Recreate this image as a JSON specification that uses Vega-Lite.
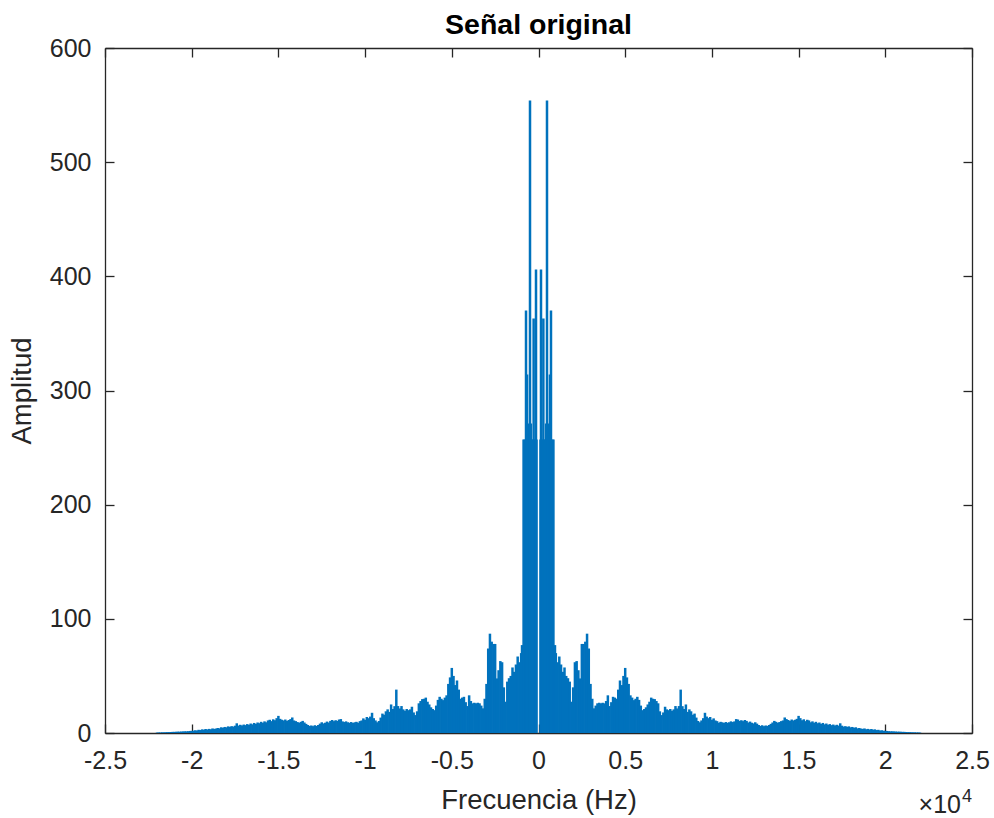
{
  "$schema": "https://vega.github.io/schema/vega-lite/v6.json",
  "width": 867,
  "height": 685,
  "autosize": "none",
  "padding": {"left": 105, "top": 48, "right": 22, "bottom": 85},
  "background": "#ffffff",
  "title": {"text": "Señal original", "font": "Liberation Sans", "fontSize": 28.5, "fontWeight": "bold", "color": "#000000", "anchor": "middle", "frame": "group", "baseline": "alphabetic", "offset": -26},
  "config": {
    "view": {"stroke": null},
    "axis": {"domainColor": "#262626", "domainWidth": 1.3, "tickColor": "#262626", "tickWidth": 1.3, "tickSize": -9, "labelFont": "Liberation Sans", "labelFontSize": 25, "labelColor": "#262626", "titleFont": "Liberation Sans", "titleFontSize": 27.5, "titleColor": "#262626", "titleFontWeight": "normal", "grid": false, "labelOverlap": false, "labelFlush": false}
  },
  "data": {"values": [
    {"f":-2.2,"a":0.4},{"f":-2.19,"a":0.5},{"f":-2.18,"a":0.5},{"f":-2.17,"a":0.6},{"f":-2.16,"a":0.6},{"f":-2.15,"a":0.7},{"f":-2.14,"a":0.8},{"f":-2.13,"a":0.8},{"f":-2.12,"a":0.9},{"f":-2.11,"a":1.0},
    {"f":-2.1,"a":1.0},{"f":-2.09,"a":1.1},{"f":-2.08,"a":1.2},{"f":-2.07,"a":1.2},{"f":-2.06,"a":1.3},{"f":-2.05,"a":1.4},{"f":-2.04,"a":1.5},{"f":-2.03,"a":1.5},{"f":-2.02,"a":1.6},{"f":-2.01,"a":1.8},
    {"f":-2.0,"a":1.9},{"f":-1.99,"a":2.0},{"f":-1.98,"a":2.4},{"f":-1.97,"a":2.2},{"f":-1.96,"a":2.8},{"f":-1.95,"a":2.6},{"f":-1.94,"a":3.2},{"f":-1.93,"a":2.9},{"f":-1.92,"a":3.5},{"f":-1.91,"a":3.1},
    {"f":-1.9,"a":3.6},{"f":-1.89,"a":3.3},{"f":-1.88,"a":4.0},{"f":-1.87,"a":3.6},{"f":-1.86,"a":3.9},{"f":-1.85,"a":4.4},{"f":-1.84,"a":4.1},{"f":-1.83,"a":5.0},{"f":-1.82,"a":4.6},{"f":-1.81,"a":5.3},
    {"f":-1.8,"a":5.0},{"f":-1.79,"a":5.8},{"f":-1.78,"a":5.4},{"f":-1.77,"a":6.0},{"f":-1.76,"a":5.6},{"f":-1.75,"a":6.4},{"f":-1.74,"a":8.5},{"f":-1.73,"a":6.5},{"f":-1.72,"a":7.2},{"f":-1.71,"a":6.6},
    {"f":-1.7,"a":7.4},{"f":-1.69,"a":6.9},{"f":-1.68,"a":7.8},{"f":-1.67,"a":7.2},{"f":-1.66,"a":8.3},{"f":-1.65,"a":7.6},{"f":-1.64,"a":8.8},{"f":-1.63,"a":8.0},{"f":-1.62,"a":9.2},{"f":-1.61,"a":8.6},
    {"f":-1.6,"a":9.8},{"f":-1.59,"a":9.0},{"f":-1.58,"a":10.2},{"f":-1.57,"a":9.4},{"f":-1.56,"a":11.0},{"f":-1.55,"a":11.6},{"f":-1.54,"a":10.4},{"f":-1.53,"a":12.0},{"f":-1.52,"a":11.2},{"f":-1.51,"a":13.0},
    {"f":-1.5,"a":15.0},{"f":-1.49,"a":12.4},{"f":-1.48,"a":11.6},{"f":-1.47,"a":11.0},{"f":-1.46,"a":11.8},{"f":-1.45,"a":10.6},{"f":-1.44,"a":11.4},{"f":-1.43,"a":12.2},{"f":-1.42,"a":13.6},{"f":-1.41,"a":11.0},
    {"f":-1.4,"a":10.4},{"f":-1.39,"a":9.6},{"f":-1.38,"a":9.0},{"f":-1.37,"a":9.8},{"f":-1.36,"a":10.6},{"f":-1.35,"a":9.2},{"f":-1.34,"a":8.0},{"f":-1.33,"a":7.0},{"f":-1.32,"a":6.2},{"f":-1.31,"a":6.6},
    {"f":-1.3,"a":6.0},{"f":-1.29,"a":6.8},{"f":-1.28,"a":6.2},{"f":-1.27,"a":7.0},{"f":-1.26,"a":8.2},{"f":-1.25,"a":9.4},{"f":-1.24,"a":8.4},{"f":-1.23,"a":9.0},{"f":-1.22,"a":10.0},{"f":-1.21,"a":9.2},
    {"f":-1.2,"a":10.6},{"f":-1.19,"a":11.4},{"f":-1.18,"a":10.4},{"f":-1.17,"a":11.2},{"f":-1.16,"a":10.6},{"f":-1.15,"a":11.8},{"f":-1.14,"a":12.2},{"f":-1.13,"a":10.2},{"f":-1.12,"a":9.6},{"f":-1.11,"a":10.2},
    {"f":-1.1,"a":9.4},{"f":-1.09,"a":9.0},{"f":-1.08,"a":9.6},{"f":-1.07,"a":8.8},{"f":-1.06,"a":9.4},{"f":-1.05,"a":9.8},{"f":-1.04,"a":9.0},{"f":-1.03,"a":10.4},{"f":-1.02,"a":11.0},{"f":-1.01,"a":12.8},
    {"f":-1.0,"a":11.6},{"f":-0.99,"a":14.0},{"f":-0.98,"a":13.0},{"f":-0.97,"a":14.4},{"f":-0.96,"a":17.7},{"f":-0.95,"a":13.0},{"f":-0.94,"a":11.0},{"f":-0.93,"a":9.4},{"f":-0.92,"a":10.5},{"f":-0.91,"a":13.5},
    {"f":-0.9,"a":17.0},{"f":-0.89,"a":16.0},{"f":-0.88,"a":19.0},{"f":-0.87,"a":20.7},{"f":-0.86,"a":18.5},{"f":-0.85,"a":25.0},{"f":-0.84,"a":21.0},{"f":-0.83,"a":23.5},{"f":-0.82,"a":38.0},{"f":-0.81,"a":23.6},
    {"f":-0.8,"a":21.5},{"f":-0.79,"a":23.6},{"f":-0.78,"a":20.7},{"f":-0.77,"a":19.5},{"f":-0.76,"a":21.0},{"f":-0.75,"a":20.0},{"f":-0.74,"a":20.7},{"f":-0.73,"a":23.0},{"f":-0.72,"a":18.0},{"f":-0.71,"a":15.7},
    {"f":-0.7,"a":19.0},{"f":-0.69,"a":26.0},{"f":-0.68,"a":28.0},{"f":-0.67,"a":29.7},{"f":-0.66,"a":30.0},{"f":-0.65,"a":31.0},{"f":-0.64,"a":27.4},{"f":-0.63,"a":25.0},{"f":-0.62,"a":22.5},{"f":-0.61,"a":21.0},
    {"f":-0.6,"a":20.0},{"f":-0.59,"a":24.0},{"f":-0.58,"a":29.0},{"f":-0.57,"a":31.7},{"f":-0.56,"a":30.0},{"f":-0.55,"a":28.8},{"f":-0.54,"a":31.0},{"f":-0.53,"a":33.0},{"f":-0.52,"a":43.0},{"f":-0.51,"a":48.7},
    {"f":-0.5,"a":57.0},{"f":-0.49,"a":50.0},{"f":-0.48,"a":42.0},{"f":-0.47,"a":46.0},{"f":-0.46,"a":38.0},{"f":-0.45,"a":30.0},{"f":-0.44,"a":31.0},{"f":-0.43,"a":31.7},{"f":-0.42,"a":27.0},{"f":-0.41,"a":23.6},
    {"f":-0.4,"a":33.0},{"f":-0.39,"a":28.0},{"f":-0.38,"a":26.0},{"f":-0.37,"a":26.5},{"f":-0.36,"a":26.0},{"f":-0.35,"a":26.5},{"f":-0.34,"a":26.0},{"f":-0.33,"a":24.0},{"f":-0.32,"a":21.6},{"f":-0.31,"a":30.0},
    {"f":-0.3,"a":43.0},{"f":-0.29,"a":74.0},{"f":-0.28,"a":87.0},{"f":-0.27,"a":80.0},{"f":-0.26,"a":78.0},{"f":-0.25,"a":78.0},{"f":-0.24,"a":47.8},{"f":-0.23,"a":55.0},{"f":-0.22,"a":63.0},{"f":-0.21,"a":62.0},
    {"f":-0.2,"a":40.0},{"f":-0.19,"a":27.4},{"f":-0.18,"a":45.0},{"f":-0.17,"a":48.0},{"f":-0.16,"a":50.0},{"f":-0.15,"a":57.4},{"f":-0.14,"a":53.6},{"f":-0.13,"a":60.0},{"f":-0.12,"a":67.0},{"f":-0.11,"a":62.0},
    {"f":-0.1,"a":70.0},{"f":-0.095,"a":77.0},{"f":-0.086,"a":257},{"f":-0.08,"a":257},{"f":-0.072,"a":370},{"f":-0.066,"a":314},{"f":-0.06,"a":271},{"f":-0.055,"a":257},{"f":-0.049,"a":554},{"f":-0.044,"a":271},
    {"f":-0.038,"a":257},{"f":-0.033,"a":257},{"f":-0.028,"a":363},{"f":-0.022,"a":257},{"f":-0.018,"a":257},{"f":-0.0144,"a":406},{"f":-0.0115,"a":257},
    {"f":0.0115,"a":257},{"f":0.0144,"a":406},{"f":0.018,"a":257},{"f":0.022,"a":257},{"f":0.028,"a":363},{"f":0.033,"a":257},{"f":0.038,"a":257},
    {"f":0.044,"a":271},{"f":0.049,"a":554},{"f":0.055,"a":257},{"f":0.06,"a":271},{"f":0.066,"a":314},{"f":0.072,"a":370},{"f":0.08,"a":257},{"f":0.086,"a":257},{"f":0.095,"a":77.0},{"f":0.1,"a":70.0},
    {"f":0.11,"a":62.0},{"f":0.12,"a":67.0},{"f":0.13,"a":60.0},{"f":0.14,"a":53.6},{"f":0.15,"a":57.4},{"f":0.16,"a":50.0},{"f":0.17,"a":48.0},{"f":0.18,"a":45.0},{"f":0.19,"a":27.4},{"f":0.2,"a":40.0},
    {"f":0.21,"a":62.0},{"f":0.22,"a":63.0},{"f":0.23,"a":55.0},{"f":0.24,"a":47.8},{"f":0.25,"a":78.0},{"f":0.26,"a":78.0},{"f":0.27,"a":80.0},{"f":0.28,"a":87.0},{"f":0.29,"a":74.0},{"f":0.3,"a":43.0},
    {"f":0.31,"a":30.0},{"f":0.32,"a":21.6},{"f":0.33,"a":24.0},{"f":0.34,"a":26.0},{"f":0.35,"a":26.5},{"f":0.36,"a":26.0},{"f":0.37,"a":26.5},{"f":0.38,"a":26.0},{"f":0.39,"a":28.0},{"f":0.4,"a":33.0},
    {"f":0.41,"a":23.6},{"f":0.42,"a":27.0},{"f":0.43,"a":31.7},{"f":0.44,"a":31.0},{"f":0.45,"a":30.0},{"f":0.46,"a":38.0},{"f":0.47,"a":46.0},{"f":0.48,"a":42.0},{"f":0.49,"a":50.0},{"f":0.5,"a":57.0},
    {"f":0.51,"a":48.7},{"f":0.52,"a":43.0},{"f":0.53,"a":33.0},{"f":0.54,"a":31.0},{"f":0.55,"a":28.8},{"f":0.56,"a":30.0},{"f":0.57,"a":31.7},{"f":0.58,"a":29.0},{"f":0.59,"a":24.0},{"f":0.6,"a":20.0},
    {"f":0.61,"a":21.0},{"f":0.62,"a":22.5},{"f":0.63,"a":25.0},{"f":0.64,"a":27.4},{"f":0.65,"a":31.0},{"f":0.66,"a":30.0},{"f":0.67,"a":29.7},{"f":0.68,"a":28.0},{"f":0.69,"a":26.0},{"f":0.7,"a":19.0},
    {"f":0.71,"a":15.7},{"f":0.72,"a":18.0},{"f":0.73,"a":23.0},{"f":0.74,"a":20.7},{"f":0.75,"a":20.0},{"f":0.76,"a":21.0},{"f":0.77,"a":19.5},{"f":0.78,"a":20.7},{"f":0.79,"a":23.6},{"f":0.8,"a":21.5},
    {"f":0.81,"a":23.6},{"f":0.82,"a":38.0},{"f":0.83,"a":23.5},{"f":0.84,"a":21.0},{"f":0.85,"a":25.0},{"f":0.86,"a":18.5},{"f":0.87,"a":20.7},{"f":0.88,"a":19.0},{"f":0.89,"a":16.0},{"f":0.9,"a":17.0},
    {"f":0.91,"a":13.5},{"f":0.92,"a":10.5},{"f":0.93,"a":9.4},{"f":0.94,"a":11.0},{"f":0.95,"a":13.0},{"f":0.96,"a":17.7},{"f":0.97,"a":14.4},{"f":0.98,"a":13.0},{"f":0.99,"a":14.0},{"f":1.0,"a":11.6},
    {"f":1.01,"a":12.8},{"f":1.02,"a":11.0},{"f":1.03,"a":10.4},{"f":1.04,"a":9.0},{"f":1.05,"a":9.8},{"f":1.06,"a":9.4},{"f":1.07,"a":8.8},{"f":1.08,"a":9.6},{"f":1.09,"a":9.0},{"f":1.1,"a":9.4},
    {"f":1.11,"a":10.2},{"f":1.12,"a":9.6},{"f":1.13,"a":10.2},{"f":1.14,"a":12.2},{"f":1.15,"a":11.8},{"f":1.16,"a":10.6},{"f":1.17,"a":11.2},{"f":1.18,"a":10.4},{"f":1.19,"a":11.4},{"f":1.2,"a":10.6},
    {"f":1.21,"a":9.2},{"f":1.22,"a":10.0},{"f":1.23,"a":9.0},{"f":1.24,"a":8.4},{"f":1.25,"a":9.4},{"f":1.26,"a":8.2},{"f":1.27,"a":7.0},{"f":1.28,"a":6.2},{"f":1.29,"a":6.8},{"f":1.3,"a":6.0},
    {"f":1.31,"a":6.6},{"f":1.32,"a":6.2},{"f":1.33,"a":7.0},{"f":1.34,"a":8.0},{"f":1.35,"a":9.2},{"f":1.36,"a":10.6},{"f":1.37,"a":9.8},{"f":1.38,"a":9.0},{"f":1.39,"a":9.6},{"f":1.4,"a":10.4},
    {"f":1.41,"a":11.0},{"f":1.42,"a":13.6},{"f":1.43,"a":12.2},{"f":1.44,"a":11.4},{"f":1.45,"a":10.6},{"f":1.46,"a":11.8},{"f":1.47,"a":11.0},{"f":1.48,"a":11.6},{"f":1.49,"a":12.4},{"f":1.5,"a":15.0},
    {"f":1.51,"a":13.0},{"f":1.52,"a":11.2},{"f":1.53,"a":12.0},{"f":1.54,"a":10.4},{"f":1.55,"a":11.6},{"f":1.56,"a":11.0},{"f":1.57,"a":9.4},{"f":1.58,"a":10.2},{"f":1.59,"a":9.0},{"f":1.6,"a":9.8},
    {"f":1.61,"a":8.6},{"f":1.62,"a":9.2},{"f":1.63,"a":8.0},{"f":1.64,"a":8.8},{"f":1.65,"a":7.6},{"f":1.66,"a":8.3},{"f":1.67,"a":7.2},{"f":1.68,"a":7.8},{"f":1.69,"a":6.9},{"f":1.7,"a":7.4},
    {"f":1.71,"a":6.6},{"f":1.72,"a":7.2},{"f":1.73,"a":6.5},{"f":1.74,"a":8.5},{"f":1.75,"a":6.4},{"f":1.76,"a":5.6},{"f":1.77,"a":6.0},{"f":1.78,"a":5.4},{"f":1.79,"a":5.8},{"f":1.8,"a":5.0},
    {"f":1.81,"a":5.3},{"f":1.82,"a":4.6},{"f":1.83,"a":5.0},{"f":1.84,"a":4.1},{"f":1.85,"a":4.4},{"f":1.86,"a":3.9},{"f":1.87,"a":3.6},{"f":1.88,"a":4.0},{"f":1.89,"a":3.3},{"f":1.9,"a":3.6},
    {"f":1.91,"a":3.1},{"f":1.92,"a":3.5},{"f":1.93,"a":2.9},{"f":1.94,"a":3.2},{"f":1.95,"a":2.6},{"f":1.96,"a":2.8},{"f":1.97,"a":2.2},{"f":1.98,"a":2.4},{"f":1.99,"a":2.0},{"f":2.0,"a":1.9},
    {"f":2.01,"a":1.8},{"f":2.02,"a":1.6},{"f":2.03,"a":1.5},{"f":2.04,"a":1.5},{"f":2.05,"a":1.4},{"f":2.06,"a":1.3},{"f":2.07,"a":1.2},{"f":2.08,"a":1.2},{"f":2.09,"a":1.1},{"f":2.1,"a":1.0},
    {"f":2.11,"a":1.0},{"f":2.12,"a":0.9},{"f":2.13,"a":0.8},{"f":2.14,"a":0.8},{"f":2.15,"a":0.7},{"f":2.16,"a":0.6},{"f":2.17,"a":0.6},{"f":2.18,"a":0.5},{"f":2.19,"a":0.5},{"f":2.2,"a":0.4}
  ]},
  "layer": [
    {
      "mark": {"type": "rule", "color": "#0072BD", "strokeWidth": 2.5, "strokeCap": "butt"},
      "encoding": {
        "x": {"field": "f", "type": "quantitative", "scale": {"domain": [-2.5, 2.5], "nice": false, "zero": false},
              "axis": {"orient": "bottom", "values": [-2.5, -2, -1.5, -1, -0.5, 0, 0.5, 1, 1.5, 2, 2.5], "labelExpr": "datum.value + ''", "labelPadding": 24, "title": "Frecuencia (Hz)", "titlePadding": 13}},
        "y": {"field": "a", "type": "quantitative", "scale": {"domain": [0, 600], "nice": false},
              "axis": {"orient": "left", "values": [0, 100, 200, 300, 400, 500, 600], "labelExpr": "datum.value + ''", "labelPadding": 23, "title": "Amplitud", "titlePadding": 13}},
        "y2": {"datum": 0}
      }
    },
    {
      "mark": {"type": "rule", "opacity": 0},
      "encoding": {
        "x": {"field": "f", "type": "quantitative", "axis": {"orient": "top", "values": [-2.5, -2, -1.5, -1, -0.5, 0, 0.5, 1, 1.5, 2, 2.5], "labels": false, "title": null}},
        "y": {"field": "a", "type": "quantitative", "axis": {"orient": "right", "values": [0, 100, 200, 300, 400, 500, 600], "labels": false, "title": null}},
        "y2": {"datum": 0}
      }
    },
    {
      "data": {"values": [{"label": "×10"}]},
      "mark": {"type": "text", "align": "right", "baseline": "alphabetic", "font": "Liberation Sans", "fontSize": 25, "color": "#262626", "dx": -11},
      "encoding": {
        "x": {"datum": 2.5, "axis": null},
        "y": {"datum": -70, "axis": null},
        "text": {"field": "label", "type": "nominal"}
      }
    },
    {
      "data": {"values": [{"label": "4"}]},
      "mark": {"type": "text", "align": "right", "baseline": "alphabetic", "font": "Liberation Sans", "fontSize": 18, "color": "#262626", "dy": -11},
      "encoding": {
        "x": {"datum": 2.5, "axis": null},
        "y": {"datum": -70, "axis": null},
        "text": {"field": "label", "type": "nominal"}
      }
    }
  ],
  "resolve": {"axis": {"x": "independent", "y": "independent"}}
}
